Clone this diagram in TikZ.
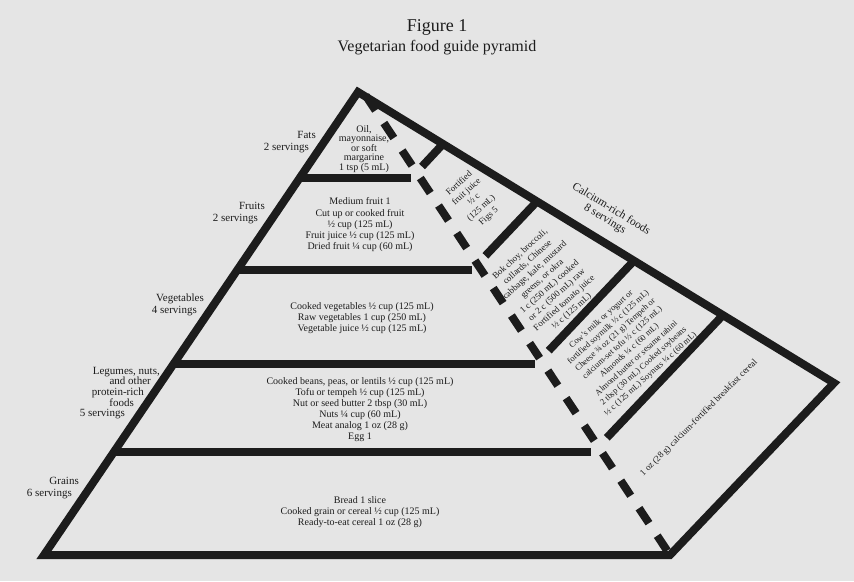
\documentclass[tikz,border=0pt]{standalone}
\usepackage{fontspec}
\setmainfont{Liberation Serif}
\usepackage{tikz}
\usetikzlibrary{positioning}

\definecolor{paper}{HTML}{E5E5E5}
\definecolor{ink}{HTML}{1C1C1C}

\begin{document}
\begin{tikzpicture}[x=1pt, y=-1pt, line join=miter,
    wall/.style={draw=ink, line width=8pt},
    tiertext/.style={align=center, text=ink, font=\fontsize{10}{11}\selectfont},
    sidetext/.style={align=center, text=ink, font=\fontsize{9}{11}\selectfont},
    servings/.style={align=right, anchor=east, inner sep=0pt, text=ink, font=\fontsize{11}{12}\selectfont}]

    % Define page
    \useasboundingbox (0,0) rectangle (854,581);
    \fill[paper] (0,0) rectangle (854,581);

    % Title
    \node[text=ink, font=\fontsize{18}{20}\selectfont] (title) at (437,27) {Figure 1};
    \node[text=ink, font=\fontsize{16}{18}\selectfont] (subtitle) at (437,48) {Vegetarian food guide pyramid};

    % Define corners
    \coordinate (apex) at (358,92);
    \coordinate (base left) at (44,555);
    \coordinate (base right) at (670,555);
    \coordinate (side right) at (834,383);
    \coordinate (fold top) at (364,93);

    % Draw walls
    \draw[wall] (apex) -- (side right) -- (base right) -- (base left) -- cycle;
    \draw[wall, dash pattern=on 18pt off 15pt, dash phase=30pt] (fold top) -- (base right);

    \foreach \y/\xl/\xr in {178/299.7/411, 270/237.3/472, 364/173.5/535, 452/113.8/591} {
        \draw[wall] (\xl,\y) -- (\xr,\y);
    }
    \foreach \xa/\ya/\xb/\yb in {443/144/422/166.5, 537/201.4/485.4/255.8, 634/260.7/548.7/350.7, 723/315.1/606.8/437.8} {
        \draw[wall] (\xa,\ya) -- (\xb,\yb);
    }

    % Front face
    \node[tiertext, font=\fontsize{10}{9.5}\selectfont] (fats) at (364,149) {Oil,\\mayonnaise,\\or soft\\margarine\\1 tsp (5 mL)};
    \node[tiertext, font=\fontsize{10}{11.25}\selectfont] (fruits) at (360,225) {Medium fruit 1\\Cut up or cooked fruit\\½ cup (125 mL)\\Fruit juice ½ cup (125 mL)\\Dried fruit ¼ cup (60 mL)};
    \node[tiertext] (vegetables) at (362,318) {Cooked vegetables ½ cup (125 mL)\\Raw vegetables 1 cup (250 mL)\\Vegetable juice ½ cup (125 mL)};
    \node[tiertext] (legumes) at (360,410) {Cooked beans, peas, or lentils ½ cup (125 mL)\\Tofu or tempeh ½ cup (125 mL)\\Nut or seed butter 2 tbsp (30 mL)\\Nuts ¼ cup (60 mL)\\Meat analog 1 oz (28 g)\\Egg 1};
    \node[tiertext] (grains) at (360,512) {Bread 1 slice\\Cooked grain or cereal ½ cup (125 mL)\\Ready-to-eat cereal 1 oz (28 g)};

    % Servings
    \node[servings] (fats label) at (316,142) {Fats\\2 servings\hspace*{7pt}\mbox{}};
    \node[servings] (fruits label) at (265,213) {Fruits\\2 servings\hspace*{7pt}\mbox{}};
    \node[servings] (vegetables label) at (204,305) {Vegetables\\4 servings\hspace*{7pt}\mbox{}};
    \node[servings, font=\fontsize{11}{10.6}\selectfont] (legumes label) at (160,393) {Legumes, nuts,\\and other\hspace*{9pt}\mbox{}\\protein-rich\hspace*{16pt}\mbox{}\\foods\hspace*{26pt}\mbox{}\\5 servings\hspace*{35pt}\mbox{}};
    \node[servings] (grains label) at (79,488) {Grains\\6 servings\hspace*{7pt}\mbox{}};

    % Side face
    \node[text=ink, align=center, font=\fontsize{11.5}{12}\selectfont, rotate=-31.5] (calcium) at (608,214) {Calcium-rich foods\\8 servings};
    \node[sidetext, rotate=42] (juice) at (474,200) {Fortified\\fruit juice\\½ c\\(125 mL)\\Figs 5};
    \node[sidetext, rotate=42] (greens) at (546,283) {Bok choy, broccoli,\\collards, Chinese\\cabbage, kale, mustard\\greens, or okra\\1 c (250 mL) cooked\\or 2 c (500 mL) raw\\Fortified tomato juice\\½ c (125 mL)};
    \node[sidetext, rotate=42, font=\fontsize{8.5}{10.5}\selectfont] (milk) at (626,347) {Cow's milk or yogurt or\\fortified soymilk ½ c (125 mL)\\Cheese ¾ oz (21 g) Tempeh or\\calcium-set tofu ½ c (125 mL)\\Almonds ¼ c (60 mL)\\Almond butter or sesame tahini\\2 tbsp (30 mL) Cooked soybeans\\½ c (125 mL) Soynuts ¼ c (60 mL)};
    \node[sidetext, rotate=45] (cereal) at (699,418) {1 oz (28 g) calcium-fortified breakfast cereal};

\end{tikzpicture}
\end{document}
